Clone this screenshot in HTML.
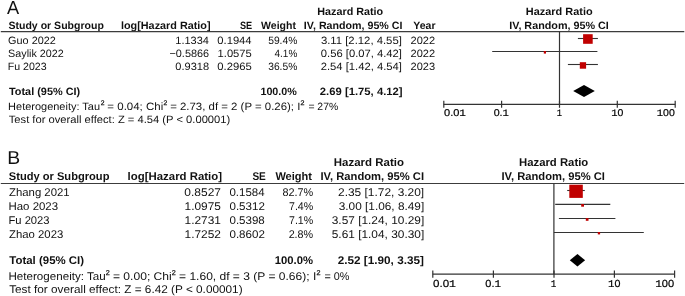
<!DOCTYPE html>
<html><head><meta charset="utf-8"><style>
html,body{margin:0;padding:0;background:#fff;}
svg{display:block;will-change:transform;}
text{font-family:"Liberation Sans",sans-serif;text-rendering:geometricPrecision;}
</style></head><body>
<svg width="685" height="296" viewBox="0 0 685 296">
<rect width="685" height="296" fill="#fff"/>
<text x="7.06" y="13.70" font-size="18.8" font-weight="400" textLength="12.17" lengthAdjust="spacingAndGlyphs" fill="#111">A</text>
<text x="317.29" y="15.40" font-size="10.6" font-weight="700" textLength="65.92" lengthAdjust="spacingAndGlyphs" fill="#111">Hazard Ratio</text>
<text x="525.89" y="15.40" font-size="10.6" font-weight="700" textLength="66.72" lengthAdjust="spacingAndGlyphs" fill="#111">Hazard Ratio</text>
<text x="8.49" y="28.80" font-size="10.6" font-weight="700" textLength="95.34" lengthAdjust="spacingAndGlyphs" fill="#111">Study or Subgroup</text>
<text x="120.96" y="28.80" font-size="10.6" font-weight="700" textLength="89.64" lengthAdjust="spacingAndGlyphs" fill="#111">log[Hazard Ratio]</text>
<text x="239.99" y="28.80" font-size="10.6" font-weight="700" textLength="12.22" lengthAdjust="spacingAndGlyphs" fill="#111">SE</text>
<text x="261.09" y="28.80" font-size="10.6" font-weight="700" textLength="34.84" lengthAdjust="spacingAndGlyphs" fill="#111">Weight</text>
<text x="303.89" y="28.80" font-size="10.6" font-weight="700" textLength="98.62" lengthAdjust="spacingAndGlyphs" fill="#111">IV, Random, 95% CI</text>
<text x="413.32" y="28.80" font-size="10.6" font-weight="700" textLength="22.24" lengthAdjust="spacingAndGlyphs" fill="#111">Year</text>
<text x="509.19" y="28.80" font-size="10.6" font-weight="700" textLength="99.62" lengthAdjust="spacingAndGlyphs" fill="#111">IV, Random, 95% CI</text>
<line x1="0.8" y1="31.6" x2="684.3" y2="31.6" stroke="#3c3c3c" stroke-width="1.2"/>
<text x="8.07" y="43.60" font-size="10.6" font-weight="400" textLength="47.77" lengthAdjust="spacingAndGlyphs" fill="#111">Guo 2022</text>
<text x="175.39" y="43.60" font-size="10.6" font-weight="400" textLength="33.52" lengthAdjust="spacingAndGlyphs" fill="#111">1.1334</text>
<text x="217.29" y="43.60" font-size="10.6" font-weight="400" textLength="34.32" lengthAdjust="spacingAndGlyphs" fill="#111">0.1944</text>
<text x="268.18" y="43.60" font-size="10.6" font-weight="400" textLength="29.10" lengthAdjust="spacingAndGlyphs" fill="#111">59.4%</text>
<text x="320.90" y="43.60" font-size="10.6" font-weight="400" textLength="80.96" lengthAdjust="spacingAndGlyphs" fill="#111">3.11 [2.12, 4.55]</text>
<text x="410.57" y="43.60" font-size="10.6" font-weight="400" textLength="24.57" lengthAdjust="spacingAndGlyphs" fill="#111">2022</text>
<text x="8.12" y="56.50" font-size="10.6" font-weight="400" textLength="55.61" lengthAdjust="spacingAndGlyphs" fill="#111">Saylik 2022</text>
<text x="169.48" y="56.50" font-size="10.6" font-weight="400" textLength="39.59" lengthAdjust="spacingAndGlyphs" fill="#111">−0.5866</text>
<text x="217.59" y="56.50" font-size="10.6" font-weight="400" textLength="34.15" lengthAdjust="spacingAndGlyphs" fill="#111">1.0575</text>
<text x="274.56" y="56.50" font-size="10.6" font-weight="400" textLength="22.72" lengthAdjust="spacingAndGlyphs" fill="#111">4.1%</text>
<text x="320.89" y="56.50" font-size="10.6" font-weight="400" textLength="80.97" lengthAdjust="spacingAndGlyphs" fill="#111">0.56 [0.07, 4.42]</text>
<text x="410.57" y="56.50" font-size="10.6" font-weight="400" textLength="24.57" lengthAdjust="spacingAndGlyphs" fill="#111">2022</text>
<text x="7.73" y="69.60" font-size="10.6" font-weight="400" fill="#111">Fu 2023</text>
<text x="175.39" y="69.60" font-size="10.6" font-weight="400" textLength="33.67" lengthAdjust="spacingAndGlyphs" fill="#111">0.9318</text>
<text x="217.29" y="69.60" font-size="10.6" font-weight="400" textLength="34.46" lengthAdjust="spacingAndGlyphs" fill="#111">0.2965</text>
<text x="268.20" y="69.60" font-size="10.6" font-weight="400" textLength="29.08" lengthAdjust="spacingAndGlyphs" fill="#111">36.5%</text>
<text x="320.77" y="69.60" font-size="10.6" font-weight="400" textLength="81.09" lengthAdjust="spacingAndGlyphs" fill="#111">2.54 [1.42, 4.54]</text>
<text x="410.57" y="69.60" font-size="10.6" font-weight="400" textLength="24.50" lengthAdjust="spacingAndGlyphs" fill="#111">2023</text>
<text x="8.98" y="94.60" font-size="10.6" font-weight="700" textLength="71.25" lengthAdjust="spacingAndGlyphs" fill="#111">Total (95% CI)</text>
<text x="260.43" y="94.60" font-size="10.6" font-weight="700" textLength="36.45" lengthAdjust="spacingAndGlyphs" fill="#111">100.0%</text>
<text x="319.83" y="94.60" font-size="10.6" font-weight="700" textLength="82.76" lengthAdjust="spacingAndGlyphs" fill="#111">2.69 [1.75, 4.12]</text>
<text x="8.13" y="109.60" font-size="10.6" font-weight="400" textLength="91.87" lengthAdjust="spacingAndGlyphs" fill="#111">Heterogeneity: Tau</text>
<text x="100.66" y="104.80" font-size="6.7" font-weight="400" textLength="3.77" lengthAdjust="spacingAndGlyphs" fill="#111" stroke="#111" stroke-width="0.25">2</text>
<text x="107.38" y="109.60" font-size="10.6" font-weight="400" textLength="55.83" lengthAdjust="spacingAndGlyphs" fill="#111">= 0.04; Chi</text>
<text x="163.46" y="104.80" font-size="6.7" font-weight="400" textLength="3.77" lengthAdjust="spacingAndGlyphs" fill="#111" stroke="#111" stroke-width="0.25">2</text>
<text x="170.18" y="109.60" font-size="10.6" font-weight="400" textLength="130.20" lengthAdjust="spacingAndGlyphs" fill="#111">= 2.73, df = 2 (P = 0.26); I</text>
<text x="300.56" y="104.80" font-size="6.7" font-weight="400" textLength="3.97" lengthAdjust="spacingAndGlyphs" fill="#111" stroke="#111" stroke-width="0.25">2</text>
<text x="308.38" y="109.60" font-size="10.6" font-weight="400" textLength="29.80" lengthAdjust="spacingAndGlyphs" fill="#111">= 27%</text>
<text x="8.76" y="122.60" font-size="10.6" font-weight="400" textLength="221.50" lengthAdjust="spacingAndGlyphs" fill="#111">Test for overall effect: Z = 4.54 (P &lt; 0.00001)</text>
<line x1="559.5" y1="31.5" x2="559.5" y2="104.4" stroke="#333" stroke-width="1.2"/>
<line x1="577.9" y1="38.5" x2="597.9" y2="38.5" stroke="#333" stroke-width="1.1"/>
<rect x="583.10" y="34.20" width="9.60" height="9.60" fill="#c00000"/>
<line x1="492.2" y1="51.5" x2="597.4" y2="51.5" stroke="#333" stroke-width="1.1"/>
<rect x="543.80" y="51.00" width="2.20" height="2.60" fill="#c00000"/>
<line x1="567.9" y1="64.5" x2="597.9" y2="64.5" stroke="#333" stroke-width="1.1"/>
<rect x="579.80" y="62.20" width="6.30" height="6.50" fill="#c00000"/>
<polygon points="573.2,91.0 584.0,85.0 594.8,91.0 584.0,97.0" fill="#000"/>
<line x1="443.6" y1="104.4" x2="675.3" y2="104.4" stroke="#333" stroke-width="1.2"/>
<line x1="443.8" y1="100.8" x2="443.8" y2="107.8" stroke="#333" stroke-width="1.2"/>
<line x1="501.6" y1="100.8" x2="501.6" y2="107.8" stroke="#333" stroke-width="1.2"/>
<line x1="559.5" y1="100.8" x2="559.5" y2="107.8" stroke="#333" stroke-width="1.2"/>
<line x1="617.3" y1="100.8" x2="617.3" y2="107.8" stroke="#333" stroke-width="1.2"/>
<line x1="675.2" y1="100.8" x2="675.2" y2="107.8" stroke="#333" stroke-width="1.2"/>
<text x="444.01" y="116.30" font-size="9.9" font-weight="400" textLength="21.97" lengthAdjust="spacingAndGlyphs" fill="#000" stroke="#000" stroke-width="0.2">0.0<tspan font-family="Liberation Mono">1</tspan></text>
<text x="493.71" y="116.30" font-size="9.9" font-weight="400" textLength="15.27" lengthAdjust="spacingAndGlyphs" fill="#000" stroke="#000" stroke-width="0.2">0.<tspan font-family="Liberation Mono">1</tspan></text>
<text x="556.85" y="116.30" font-size="9.9" font-weight="400" textLength="5.24" lengthAdjust="spacingAndGlyphs" fill="#000" stroke="#000" stroke-width="0.2"><tspan font-family="Liberation Mono">1</tspan></text>
<text x="611.25" y="116.30" font-size="9.9" font-weight="400" textLength="12.14" lengthAdjust="spacingAndGlyphs" fill="#000" stroke="#000" stroke-width="0.2"><tspan font-family="Liberation Mono">1</tspan>0</text>
<text x="656.75" y="116.30" font-size="9.9" font-weight="400" textLength="18.04" lengthAdjust="spacingAndGlyphs" fill="#000" stroke="#000" stroke-width="0.2"><tspan font-family="Liberation Mono">1</tspan>00</text>
<text x="7.37" y="163.90" font-size="18.6" font-weight="400" textLength="12.91" lengthAdjust="spacingAndGlyphs" fill="#111">B</text>
<text x="333.85" y="166.30" font-size="11.2" font-weight="700" textLength="70.09" lengthAdjust="spacingAndGlyphs" fill="#111">Hazard Ratio</text>
<text x="519.05" y="166.30" font-size="11.2" font-weight="700" textLength="69.19" lengthAdjust="spacingAndGlyphs" fill="#111">Hazard Ratio</text>
<text x="8.78" y="180.20" font-size="11.2" font-weight="700" textLength="100.68" lengthAdjust="spacingAndGlyphs" fill="#111">Study or Subgroup</text>
<text x="127.62" y="180.20" font-size="11.2" font-weight="700" textLength="94.41" lengthAdjust="spacingAndGlyphs" fill="#111">log[Hazard Ratio]</text>
<text x="252.38" y="180.20" font-size="11.2" font-weight="700" textLength="13.46" lengthAdjust="spacingAndGlyphs" fill="#111">SE</text>
<text x="275.39" y="180.20" font-size="11.2" font-weight="700" textLength="36.55" lengthAdjust="spacingAndGlyphs" fill="#111">Weight</text>
<text x="320.45" y="180.20" font-size="11.2" font-weight="700" textLength="103.60" lengthAdjust="spacingAndGlyphs" fill="#111">IV, Random, 95% CI</text>
<text x="501.45" y="180.20" font-size="11.2" font-weight="700" textLength="103.50" lengthAdjust="spacingAndGlyphs" fill="#111">IV, Random, 95% CI</text>
<line x1="0.8" y1="183.5" x2="684.2" y2="183.5" stroke="#3c3c3c" stroke-width="1.2"/>
<text x="9.04" y="195.80" font-size="11.2" font-weight="400" textLength="60.60" lengthAdjust="spacingAndGlyphs" fill="#111">Zhang 2021</text>
<text x="184.36" y="195.80" font-size="11.2" font-weight="400" textLength="36.60" lengthAdjust="spacingAndGlyphs" fill="#111">0.8527</text>
<text x="229.46" y="195.80" font-size="11.2" font-weight="400" textLength="35.17" lengthAdjust="spacingAndGlyphs" fill="#111">0.1584</text>
<text x="282.41" y="195.80" font-size="11.2" font-weight="400" textLength="30.79" lengthAdjust="spacingAndGlyphs" fill="#111">82.7%</text>
<text x="338.04" y="195.80" font-size="11.2" font-weight="400" textLength="86.16" lengthAdjust="spacingAndGlyphs" fill="#111">2.35 [1.72, 3.20]</text>
<text x="8.48" y="209.80" font-size="11.2" font-weight="400" textLength="49.61" lengthAdjust="spacingAndGlyphs" fill="#111">Hao 2023</text>
<text x="184.55" y="209.80" font-size="11.2" font-weight="400" textLength="36.32" lengthAdjust="spacingAndGlyphs" fill="#111">1.0975</text>
<text x="229.46" y="209.80" font-size="11.2" font-weight="400" textLength="35.40" lengthAdjust="spacingAndGlyphs" fill="#111">0.5312</text>
<text x="289.03" y="209.80" font-size="11.2" font-weight="400" textLength="24.17" lengthAdjust="spacingAndGlyphs" fill="#111">7.4%</text>
<text x="338.77" y="209.80" font-size="11.2" font-weight="400" textLength="85.42" lengthAdjust="spacingAndGlyphs" fill="#111">3.00 [1.06, 8.49]</text>
<text x="8.48" y="223.70" font-size="11.2" font-weight="400" fill="#111">Fu 2023</text>
<text x="184.55" y="223.70" font-size="11.2" font-weight="400" textLength="36.40" lengthAdjust="spacingAndGlyphs" fill="#111">1.2731</text>
<text x="229.46" y="223.70" font-size="11.2" font-weight="400" textLength="35.32" lengthAdjust="spacingAndGlyphs" fill="#111">0.5398</text>
<text x="289.03" y="223.70" font-size="11.2" font-weight="400" textLength="24.17" lengthAdjust="spacingAndGlyphs" fill="#111">7.1%</text>
<text x="331.77" y="223.70" font-size="11.2" font-weight="400" textLength="92.42" lengthAdjust="spacingAndGlyphs" fill="#111">3.57 [1.24, 10.29]</text>
<text x="9.04" y="237.70" font-size="11.2" font-weight="400" textLength="54.25" lengthAdjust="spacingAndGlyphs" fill="#111">Zhao 2023</text>
<text x="184.55" y="237.70" font-size="11.2" font-weight="400" textLength="36.42" lengthAdjust="spacingAndGlyphs" fill="#111">1.7252</text>
<text x="229.46" y="237.70" font-size="11.2" font-weight="400" textLength="35.40" lengthAdjust="spacingAndGlyphs" fill="#111">0.8602</text>
<text x="288.64" y="237.70" font-size="11.2" font-weight="400" textLength="24.56" lengthAdjust="spacingAndGlyphs" fill="#111">2.8%</text>
<text x="331.75" y="237.70" font-size="11.2" font-weight="400" textLength="92.45" lengthAdjust="spacingAndGlyphs" fill="#111">5.61 [1.04, 30.30]</text>
<text x="9.37" y="263.70" font-size="11.2" font-weight="700" textLength="74.68" lengthAdjust="spacingAndGlyphs" fill="#111">Total (95% CI)</text>
<text x="274.69" y="263.70" font-size="11.2" font-weight="700" textLength="38.30" lengthAdjust="spacingAndGlyphs" fill="#111">100.0%</text>
<text x="337.71" y="263.70" font-size="11.2" font-weight="700" textLength="86.22" lengthAdjust="spacingAndGlyphs" fill="#111">2.52 [1.90, 3.35]</text>
<text x="8.48" y="279.50" font-size="11.2" font-weight="400" textLength="97.26" lengthAdjust="spacingAndGlyphs" fill="#111">Heterogeneity: Tau</text>
<text x="105.84" y="274.90" font-size="7.1" font-weight="400" textLength="4.01" lengthAdjust="spacingAndGlyphs" fill="#111" stroke="#111" stroke-width="0.25">2</text>
<text x="112.95" y="279.50" font-size="11.2" font-weight="400" textLength="58.80" lengthAdjust="spacingAndGlyphs" fill="#111">= 0.00; Chi</text>
<text x="171.84" y="274.90" font-size="7.1" font-weight="400" textLength="4.01" lengthAdjust="spacingAndGlyphs" fill="#111" stroke="#111" stroke-width="0.25">2</text>
<text x="179.05" y="279.50" font-size="11.2" font-weight="400" textLength="137.18" lengthAdjust="spacingAndGlyphs" fill="#111">= 1.60, df = 3 (P = 0.66); I</text>
<text x="316.44" y="274.90" font-size="7.1" font-weight="400" textLength="4.01" lengthAdjust="spacingAndGlyphs" fill="#111" stroke="#111" stroke-width="0.25">2</text>
<text x="324.45" y="279.50" font-size="11.2" font-weight="400" textLength="24.95" lengthAdjust="spacingAndGlyphs" fill="#111">= 0%</text>
<text x="9.15" y="293.10" font-size="11.2" font-weight="400" textLength="233.45" lengthAdjust="spacingAndGlyphs" fill="#111">Test for overall effect: Z = 6.42 (P &lt; 0.00001)</text>
<line x1="553.9" y1="183.5" x2="553.9" y2="274.2" stroke="#333" stroke-width="1.2"/>
<line x1="567.2" y1="190.5" x2="584.8" y2="190.5" stroke="#333" stroke-width="1.1"/>
<rect x="569.30" y="184.70" width="13.50" height="13.20" fill="#c00000"/>
<line x1="555.2" y1="204.4" x2="610.3" y2="204.4" stroke="#333" stroke-width="1.1"/>
<rect x="581.20" y="204.00" width="2.80" height="2.70" fill="#c00000"/>
<line x1="558.9" y1="218.5" x2="615.4" y2="218.5" stroke="#333" stroke-width="1.1"/>
<rect x="585.80" y="218.10" width="2.70" height="2.70" fill="#c00000"/>
<line x1="553.9" y1="232.5" x2="643.8" y2="232.5" stroke="#333" stroke-width="1.1"/>
<rect x="597.80" y="232.00" width="2.30" height="2.40" fill="#c00000"/>
<polygon points="569.8,260.25 577.45,254.0 585.1,260.25 577.45,266.5" fill="#000"/>
<line x1="432.7" y1="274.2" x2="674.6" y2="274.2" stroke="#333" stroke-width="1.2"/>
<line x1="432.8" y1="270.4" x2="432.8" y2="277.8" stroke="#333" stroke-width="1.2"/>
<line x1="493.4" y1="270.4" x2="493.4" y2="277.8" stroke="#333" stroke-width="1.2"/>
<line x1="554.0" y1="270.4" x2="554.0" y2="277.8" stroke="#333" stroke-width="1.2"/>
<line x1="614.4" y1="270.4" x2="614.4" y2="277.8" stroke="#333" stroke-width="1.2"/>
<line x1="674.6" y1="270.4" x2="674.6" y2="277.8" stroke="#333" stroke-width="1.2"/>
<text x="433.00" y="286.80" font-size="10.3" font-weight="400" textLength="23.01" lengthAdjust="spacingAndGlyphs" fill="#000" stroke="#000" stroke-width="0.2">0.0<tspan font-family="Liberation Mono">1</tspan></text>
<text x="485.30" y="286.80" font-size="10.3" font-weight="400" textLength="15.71" lengthAdjust="spacingAndGlyphs" fill="#000" stroke="#000" stroke-width="0.2">0.<tspan font-family="Liberation Mono">1</tspan></text>
<text x="550.82" y="286.80" font-size="10.3" font-weight="400" textLength="5.59" lengthAdjust="spacingAndGlyphs" fill="#000" stroke="#000" stroke-width="0.2"><tspan font-family="Liberation Mono">1</tspan></text>
<text x="608.02" y="286.80" font-size="10.3" font-weight="400" textLength="12.39" lengthAdjust="spacingAndGlyphs" fill="#000" stroke="#000" stroke-width="0.2"><tspan font-family="Liberation Mono">1</tspan>0</text>
<text x="655.22" y="286.80" font-size="10.3" font-weight="400" textLength="18.99" lengthAdjust="spacingAndGlyphs" fill="#000" stroke="#000" stroke-width="0.2"><tspan font-family="Liberation Mono">1</tspan>00</text>
</svg>
</body></html>
